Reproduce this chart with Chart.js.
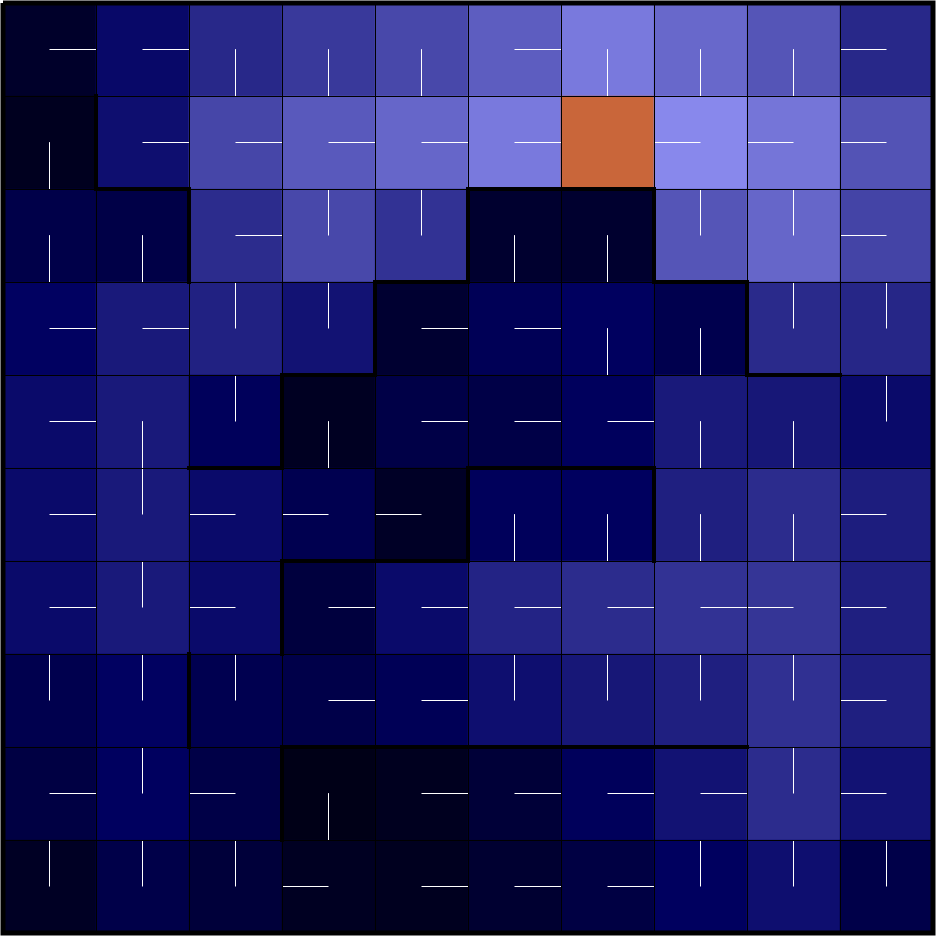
<!DOCTYPE html>
<html>
<head>
<meta charset="utf-8">
<script src="https://cdn.jsdelivr.net/npm/chart.js@4.4.1/dist/chart.umd.min.js"></script>
<style>
  html, body { margin: 0; padding: 0; background: #fff; }
  #wrap { width: 936px; height: 937px; }
</style>
</head>
<body>
<div id="wrap"><canvas id="grid"></canvas></div>
<script>
const nCols = 10;
const nRows = 10;

// cell values, 0 = darkest .. 100 = brightest, row 0 is the top row
const cellValues = [
  [12, 40, 55, 63, 70, 80, 93, 85, 76, 55],
  [ 7, 43, 69, 78, 84, 93, null, 100, 91, 75],
  [26, 25, 57, 70, 60, 14, 14, 76, 84, 68],
  [37, 48, 52, 45, 15, 32, 36, 28, 56, 54],
  [41, 48, 34,  8, 25, 25, 35, 48, 47, 41],
  [41, 48, 41, 29, 10, 34, 36, 51, 57, 50],
  [41, 48, 41, 21, 41, 53, 57, 60, 61, 51],
  [28, 37, 29, 26, 32, 43, 47, 51, 59, 51],
  [23, 36, 25,  3,  7, 18, 34, 45, 57, 45],
  [ 9, 26, 19,  8,  7, 15, 23, 36, 43, 26]
];

// direction line in each cell: R L U D, G = goal (no line)
const policy = [
  'RRDDDRDDDL',
  'DRRRRRGLLL',
  'DDRUUDDUUL',
  'RRUURRDDUU',
  'RDUDRRRDDU',
  'RULLLDDDDL',
  'RULRRRRRLL',
  'UUURRUUUUL',
  'RULDRRRRUL',
  'UUULRRRUUU'
];

const goalColor = '#c9663a';

// wall segments in grid units [x1, y1, x2, y2]
const walls = [
  [1, 1, 1, 2], [1, 2, 2, 2], [2, 2, 2, 3],
  [5, 2, 7, 2], [5, 2, 5, 3], [7, 2, 7, 3],
  [4, 3, 5, 3], [4, 3, 4, 4], [3, 4, 4, 4], [3, 4, 3, 5], [2, 5, 3, 5],
  [7, 3, 8, 3], [8, 3, 8, 4], [8, 4, 9, 4],
  [5, 5, 7, 5], [5, 5, 5, 6], [7, 5, 7, 6],
  [3, 6, 5, 6], [3, 6, 3, 7],
  [2, 7, 2, 8],
  [3, 8, 8, 8], [3, 8, 3, 9]
];

// colormap black -> navy -> lavender
const stops = [
  [0, [0, 0, 16]],
  [36.4, [0, 0, 96]],
  [100, [136, 136, 236]]
];

function valueColor(v) {
  for (let i = 1; i < stops.length; i++) {
    if (v <= stops[i][0]) {
      const [v0, c0] = stops[i - 1];
      const [v1, c1] = stops[i];
      const t = (v - v0) / (v1 - v0);
      const c = c0.map((a, k) => Math.round(a + (c1[k] - a) * t));
      return `rgb(${c[0]}, ${c[1]}, ${c[2]})`;
    }
  }
  const c = stops[stops.length - 1][1];
  return `rgb(${c[0]}, ${c[1]}, ${c[2]})`;
}

const cells = [];
const cellColors = [];
const arrowPoints = [];

for (let r = 0; r < nRows; r++) {
  for (let c = 0; c < nCols; c++) {
    const dir = policy[r][c];
    cells.push({ x: c + 0.5, y: [r, r + 1] });
    cellColors.push(dir === 'G' ? goalColor : valueColor(cellValues[r][c]));

    if (dir === 'G') continue;
    const cx = c + 0.5, cy = r + 0.5;
    let end;
    if (dir === 'R') end = { x: c + 1, y: cy };
    if (dir === 'L') end = { x: c, y: cy };
    if (dir === 'U') end = { x: cx, y: r };
    if (dir === 'D') end = { x: cx, y: r + 1 };
    arrowPoints.push({ x: cx, y: cy }, end, { x: null, y: null });
  }
}

const wallPoints = [];
walls.forEach(w => {
  wallPoints.push({ x: w[0], y: w[1] }, { x: w[2], y: w[3] }, { x: null, y: null });
});

const frame = [
  { x: 0, y: 0 }, { x: nCols, y: 0 }, { x: nCols, y: nRows }, { x: 0, y: nRows }, { x: 0, y: 0 }
];

new Chart(document.getElementById('grid'), {
  type: 'bar',
  data: {
    datasets: [
      {
        type: 'line',
        data: frame,
        borderColor: '#000',
        borderWidth: 5,
        borderJoinStyle: 'miter',
        pointRadius: 0,
        clip: false,
        order: 0
      },
      {
        type: 'line',
        data: wallPoints,
        borderColor: '#000',
        borderWidth: 4,
        borderCapStyle: 'square',
        pointRadius: 0,
        spanGaps: false,
        clip: false,
        order: 1
      },
      {
        type: 'line',
        data: arrowPoints,
        borderColor: '#fff',
        borderWidth: 1,
        pointRadius: 0,
        spanGaps: false,
        clip: false,
        order: 2
      },
      {
        type: 'bar',
        data: cells,
        backgroundColor: cellColors,
        borderWidth: 0,
        barPercentage: 1,
        categoryPercentage: 1,
        order: 3
      }
    ]
  },
  options: {
    responsive: true,
    maintainAspectRatio: false,
    animation: false,
    layout: {
      padding: { left: 3, top: 3, right: 3, bottom: 4 }
    },
    plugins: {
      legend: { display: false },
      tooltip: { enabled: false }
    },
    scales: {
      x: {
        type: 'linear',
        min: 0,
        max: nCols,
        offset: false,
        ticks: { display: false, stepSize: 1 },
        grid: { color: '#000', lineWidth: 1, drawTicks: false, offset: false, z: 1 },
        border: { display: false }
      },
      y: {
        type: 'linear',
        min: 0,
        max: nRows,
        reverse: true,
        ticks: { display: false, stepSize: 1 },
        grid: { color: '#000', lineWidth: 1, drawTicks: false, z: 1 },
        border: { display: false }
      }
    }
  }
});
</script>
</body>
</html>
